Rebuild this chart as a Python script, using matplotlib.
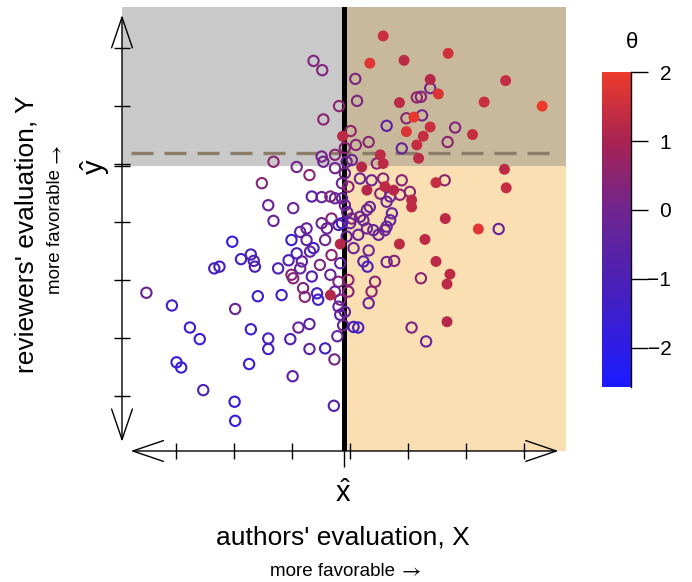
import matplotlib
matplotlib.use("Agg")
import matplotlib.pyplot as plt
import numpy as np
from matplotlib.colors import LinearSegmentedColormap, Normalize
from matplotlib.cm import ScalarMappable
from matplotlib.patches import Rectangle

plt.rcParams['font.family'] = ['Liberation Sans', 'DejaVu Sans']
plt.rcParams['mathtext.fontset'] = 'custom'
plt.rcParams['mathtext.rm'] = 'Liberation Sans'

# authors' evaluation X, reviewers' evaluation Y, latent quality theta
x = [
    -2.03, -1.88, -1.71, -1.66, -1.64, -2.34, -2.25, -3.51, -3.07, -1.98,
    -1.59, -2.76, -2.59, -1.71, -2.99, -2.91, -1.74, -2.53, -1.99, -1.98,
    -1.41, -1.41, -1.03, -0.99, -0.70, -0.43, -0.28, -0.27, -0.22, -0.89, -0.70,
    -0.63, -0.48, -0.19, -0.46, -0.13, 0.01, 0.09, 0.12, 0.10, -0.26,
    -0.49, -0.46, -1.32, -0.92, -0.70, -0.26, -0.09, -0.14, -1.52, -1.41,
    -0.98, -1.32, -0.66, -0.49, -0.34, -0.26, -0.14, -0.49, -0.32, -0.20,
    -0.40, -0.75, -0.86,
    -1.01, -0.75, -0.43, -0.17, -0.63, -0.92, -0.69, -1.06, -0.83, -0.52,
    -0.32, -0.17, -1.24, -1.01, -0.98, -0.86, -0.66, -0.34, -0.20, -0.81,
    -0.78, -0.57, -0.55, -0.34, -0.26, -0.17, -0.20, -1.18, -0.17, -0.12,
    0.32, 0.89, 1.15, 0.52, 1.18, 0.03, -0.06, 0.46, 0.57, 0.20,
    0.17, 0.37, 0.57, 0.89, 0.60, 0.75, 0.29, -0.03, 0.52, 0.69,
    0.86, 1.03, 1.06, 1.06, 0.63, 0.34, 0.29, 0.72, 0.69, 0.17,
    0.03, 0.23, 0.63, 0.40, 0.29, 0.00, -0.14, 0.49, 1.29, -0.09,
    -0.06, -0.09, -0.05,
    0.57, 0.34, 0.93, 1.69, 1.38, 1.52, 1.22, 1.15, 1.38, 0.85,
    2.68, 2.31, 3.31, 1.10, 0.97, 1.24, 0.97, 1.38, 1.26, 0.63,
    1.81, 1.68, 2.11, 2.66, 2.69, 1.48, 1.63, 2.21, 2.56, 1.64,
    0.85, 1.48, 1.72, 1.67, 1.67, 1.22, 1.06, 1.31, 0.76, 0.63,
    0.43, 0.37, 0.32, 0.23, 0.30, 0.32, 0.06, 0.14, -0.03, -0.03,
    -0.09, 0.06, 0.14, 0.60,
]
y = [
    -0.34, -0.64, -0.56, -0.67, -0.77, -0.80, -0.77, -1.22, -1.44, -1.50,
    -1.28, -1.82, -2.02, -1.85, -2.42, -2.51, -2.45, -2.90, -3.10, -3.43,
    -2.01, -2.19, -2.02, -2.66, -2.19, -2.18, -3.17, -2.37, -1.97, -1.82, -1.76,
    2.78, 2.62, 2.00, 1.77, 1.48, 1.57, 2.47, 2.09, 1.33, 1.16,
    1.13, 1.04, 1.04, 0.95, 0.81, 0.93, 0.84, 0.67, 0.67, 0.29,
    0.24, 0.02, 0.44, 0.43, 0.44, 0.41, 0.41, -0.02, 0.06, -0.05,
    -0.11, -0.11, -0.17,
    -0.31, -0.31, -0.31, -0.38, -0.45, -0.54, -0.51, -0.66, -0.68, -0.74,
    -0.57, -0.71, -0.80, -0.91, -0.97, -0.80, -0.94, -0.91, -1.03, -1.14,
    -1.29, -1.23, -1.34, -1.26, -1.20, -1.34, -1.46, -1.26, -1.60, -1.78,
    1.38, 1.27, 1.33, 1.16, 1.10, 1.07, 1.04, 1.01, 1.01, 0.95,
    0.75, 0.72, 0.75, 0.72, 0.61, 0.55, 0.55, 0.61, 0.49, 0.44,
    0.47, 0.52, 0.38, 0.26, 0.35, 0.26, 0.21, 0.15, 0.03, 0.09,
    0.06, 0.03, -0.08, -0.14, -0.11, -0.02, -0.02, -0.22, -0.30, 1.28,
    -0.25, 0.29, 0.17,
    3.21, 2.74, 2.79, 2.91, 2.46, 2.21, 2.16, 2.15, 2.31, 2.06,
    2.44, 2.07, 2.00, 1.81, 1.79, 1.84, 1.56, 1.64, 1.48, 1.66,
    1.63, 1.38, 1.51, 0.91, 0.59, 0.68, 0.72, -0.12, -0.12, 0.06,
    -0.38, -0.68, -0.90, -1.07, -1.72, -0.97, -1.82, -2.06, -0.67, -0.69,
    -1.03, -1.20, -1.40, -0.68, -0.77, -0.49, -0.45, -0.22, -1.00, -1.20,
    -1.55, -1.81, -1.82, -0.14,
]
theta = [
    -1.8, -1.3, -1.0, -0.8, -1.0, -1.2, -1.2, -0.2, -1.3, -0.2,
    -1.6, -1.6, -1.6, -1.5, -1.7, -1.7, -1.6, -1.0, -1.8, -1.8,
    -1.2, -1.2, -1.0, -0.6, -0.5, -1.2, -0.7, 0.1, -0.3, -0.3, -0.5,
    0.3, 0.3, 0.5, 0.5, 1.3, 0.6, 0.2, 0.2, 0.4, 0.4,
    0.1, 0.0, 0.5, 0.1, 0.5, 0.0, 0.0, -0.1, 0.4, -0.3,
    -0.2, -0.3, -0.8, -0.2, 0.3, -0.3, -0.2, 0.0, 0.4, -0.7,
    -0.2, -0.3, -0.4,
    -1.5, -0.3, 0.0, 1.2, -1.3, -1.0, -0.4, -0.9, -0.4, 0.2,
    0.5, -0.3, -1.0, 0.4, 0.4, -0.3, -0.9, -0.2, 0.4, 0.2,
    0.5, -1.3, -1.3, 1.2, -0.3, 0.3, -0.3, -1.4, -0.4, -0.2,
    0.5, -0.2, 1.4, 1.3, 1.3, -0.1, 0.0, 0.5, 1.3, 1.2,
    -0.1, -0.1, 0.5, 0.5, 1.3, 1.2, 1.2, 0.5, 0.5, -0.1,
    0.4, 0.5, 1.3, 1.3, -0.1, -0.2, 0.0, -0.2, -0.2, -0.2,
    0.4, 0.0, -0.3, -0.2, 0.0, 0.0, -1.2, -0.2, 1.3, 0.5,
    -0.2, 0.0, -0.3,
    1.5, 1.8, 1.3, 1.6, 1.2, 1.7, 0.4, 0.6, 0.1, 1.3,
    1.4, 1.5, 1.95, 1.9, 0.5, 0.1, 1.7, 1.5, 1.4, -0.5,
    0.3, 0.5, 1.4, 1.3, 1.4, 1.4, 0.5, 1.8, -0.2, 1.3,
    1.3, 1.3, 1.3, 1.3, 1.2, 0.5, 0.2, -0.3, 0.4, 0.0,
    0.5, 0.5, -0.2, -0.6, -1.0, 0.0, -0.1, -0.2, 0.5, 0.4,
    -0.2, -1.2, -1.2, -0.1,
]

x_hat = -0.11        # authors' threshold
y_hat = 0.96         # reviewers' threshold
y_dashed = 1.19      # dashed reference level
theta_star = 1.0     # filled markers above this quality
ticks = [-3, -2, -1, 0, 1, 2, 3]
theta_ticks = [-2, -1, 0, 1, 2]
theta_lim = (-2.57, 2.0)

x = np.array(x)
y = np.array(y)
theta = np.array(theta)
filled = theta >= theta_star

cmap = LinearSegmentedColormap.from_list(
    'theta', [(0.0, '#1a1aff'), (0.125, '#2e1de6'), (0.344, '#4c20b4'),
              (0.562, '#6f2590'), (0.781, '#a82352'), (1.0, '#ec3b2b')])
norm = Normalize(*theta_lim)

fig = plt.figure(figsize=(6.92, 5.82), dpi=100)
ax = fig.add_axes([0.1763, 0.2251, 0.6416, 0.7629])
xlim = (-3.93, 3.72)
ylim = (-3.95, 3.71)
ax.set_xlim(xlim)
ax.set_ylim(ylim)

# shaded regions
ax.add_patch(Rectangle((xlim[0], y_hat), x_hat - xlim[0], ylim[1] - y_hat,
                       facecolor='#c9c9c9', lw=0, zorder=0))
ax.add_patch(Rectangle((x_hat, y_hat), xlim[1] - x_hat, ylim[1] - y_hat,
                       facecolor='#c8b99c', lw=0, zorder=0))
ax.add_patch(Rectangle((x_hat, ylim[0]), xlim[1] - x_hat, y_hat - ylim[0],
                       facecolor='#f9dfb2', lw=0, zorder=0))

# axes drawn as double arrows
arrow_x = (-3.78, 3.59)
arrow_y = (-3.79, 3.57)
aprops = dict(arrowstyle='<->,head_length=2.2,head_width=0.75', lw=1.0,
              color='black', shrinkA=0, shrinkB=0)
ax.annotate('', xy=(arrow_x[1], ylim[0]), xytext=(arrow_x[0], ylim[0]),
            arrowprops=aprops, annotation_clip=False)
ax.annotate('', xy=(xlim[0], arrow_y[1]), xytext=(xlim[0], arrow_y[0]),
            arrowprops=aprops, annotation_clip=False)

ax.plot(arrow_x, [y_dashed, y_dashed], color='#8c7d69', lw=2.4,
        dashes=(6.6, 3.3), zorder=1)
ax.axvline(x_hat, color='black', lw=3.6, zorder=1.5)

ax.scatter(x[~filled], y[~filled], s=55, facecolors='none',
           edgecolors=cmap(norm(theta[~filled])), linewidths=1.5, zorder=2)
ax.scatter(x[filled], y[filled], s=62, c=theta[filled], cmap=cmap, norm=norm,
           edgecolors='none', zorder=3)

for s in ax.spines.values():
    s.set_visible(False)
ax.set_xticks(ticks)
ax.set_yticks(ticks + [y_hat])
ax.set_xticks([x_hat], minor=True)
ax.tick_params(which='major', direction='inout', length=12, width=1,
               labelbottom=False, labelleft=False)
ax.tick_params(axis='x', which='minor', direction='out', length=11.5, width=1,
               labelbottom=False)
ax.tick_params(axis='y', which='minor', left=False)

# labels
fig.text(343 / 692, 1 - 494 / 582, r'$\hat{\mathrm{x}}$', ha='center', va='center', fontsize=21)
fig.text(95 / 692, 1 - 167 / 582, r'$\hat{\mathrm{y}}$', ha='center', va='center',
         rotation=90, fontsize=21)
fig.text(343 / 692, 1 - 538 / 582, "authors' evaluation, X", ha='center', va='center', fontsize=19)
fig.text(27 / 692, 1 - 234 / 582, "reviewers' evaluation, Y", ha='center', va='center',
         rotation=90, fontsize=19)

xm = fig.text(332 / 692, 1 - 571 / 582, "more favorable", ha='center', va='center',
              fontsize=13.5)
ym = fig.text(56 / 692, 1 - 232 / 582, "more favorable", ha='center', va='center',
              rotation=90, fontsize=13.5)
fig.add_artist(plt.Annotation('\u2192', xy=(1, 0.45), xycoords=xm, xytext=(5, 0),
                              textcoords='offset points', ha='left', va='center',
                              fontsize=15, family='STIXGeneral'))
fig.add_artist(plt.Annotation('\u2192', xy=(0.55, 1), xycoords=ym, xytext=(0, 5),
                              textcoords='offset points', ha='center', va='bottom',
                              rotation=90, fontsize=15, family='STIXGeneral'))

# colour bar
cax = fig.add_axes([0.870, 0.335, 0.0419, 0.541])
cb = fig.colorbar(ScalarMappable(norm=norm, cmap=cmap), cax=cax)
cb.outline.set_visible(False)
cax.plot([1, 1], [0, 1], transform=cax.transAxes, color='black', lw=1, clip_on=False)
cb.set_ticks(theta_ticks)
cax.tick_params(length=12, width=1, labelsize=15, pad=17)
for lbl in cax.get_yticklabels():
    lbl.set_horizontalalignment('right')
fig.text(632 / 692, 1 - 42 / 582, '\u03b8', ha='center', va='center', fontsize=16)

fig.savefig('out.png', dpi=100)
